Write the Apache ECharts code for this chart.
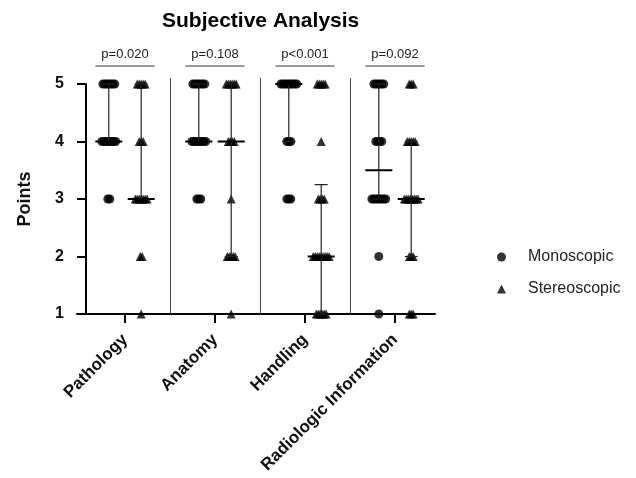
<!DOCTYPE html>
<html><head><meta charset="utf-8">
<script src="https://cdn.jsdelivr.net/npm/echarts@6/dist/echarts.min.js"></script>
<style>html,body{margin:0;padding:0;background:#fff}#c{width:636px;height:478px}</style>
</head><body><div id="c"></div>
<script>
// ---- data ----
const categories = ['Pathology', 'Anatomy', 'Handling', 'Radiologic Information'];
const scores = [5, 4, 3, 2, 1];
const yTicks = [1, 2, 3, 4, 5];
// number of ratings at each score (5,4,3,2,1) per category
const monoCounts   = [[7, 8, 2, 0, 0], [7, 8, 3, 0, 0], [9, 3, 3, 0, 0], [6, 4, 8, 1, 1]];
const stereoCounts = [[5, 3, 7, 2, 1], [6, 4, 1, 5, 1], [5, 1, 4, 9, 6], [3, 5, 8, 3, 3]];
// median with interquartile range
const monoMedian   = [4, 4, 5, 3.5];
const monoQ1       = [4, 4, 4, 3];
const monoQ3       = [5, 5, 5, 5];
const stereoMedian = [3, 4, 2, 3];
const stereoQ1     = [3, 2, 1, 2];
const stereoQ3     = [5, 5, 3.25, 4];
const pLabels = ['p=0.020', 'p=0.108', 'p<0.001', 'p=0.092'];

// ---- layout ----
const FONT = '"Liberation Sans", Arial, Helvetica, sans-serif';
const SIDE = 0.18;    // group offset from category centre (category units)
const STEP = 0.022;   // horizontal spread of overlapping points

function swarm(counts, side) {
  const out = [];
  counts.forEach((row, ci) => {
    row.forEach((n, si) => {
      for (let i = 0; i < n; i++) out.push([ci + side + (i - (n - 1) / 2) * STEP, scores[si]]);
    });
  });
  return out;
}
const errData = categories.map((c, i) => [i - SIDE, monoMedian[i], monoQ1[i], monoQ3[i]])
  .concat(categories.map((c, i) => [i + SIDE, stereoMedian[i], stereoQ1[i], stereoQ3[i]]));
const sepData = categories.slice(1).map((c, i) => [i + 0.5, 0]);
const bracketData = categories.map((c, i) => [i, 0]);

const chart = echarts.init(document.getElementById('c'), null, {renderer: 'canvas'});
chart.setOption({
  animation: false,
  backgroundColor: '#fff',
  textStyle: {fontFamily: FONT},
  title: {
    text: 'Subjective Analysis', left: 157, top: 6,
    textStyle: {fontFamily: FONT, fontSize: 21, fontWeight: 'bold', color: '#000'}
  },
  legend: {
    orient: 'vertical', left: 492, top: 243, itemGap: 14,
    itemWidth: 9, itemHeight: 9,
    data: ['Monoscopic', 'Stereoscopic'],
    textStyle: {fontFamily: FONT, fontSize: 16, color: '#222', lineHeight: 18, padding: [0, 0, 0, 17]}
  },
  grid: [
    {left: 80, width: 360, top: 84, height: 230},
    {left: 77, width: 358, top: 78, height: 236},
    {left: 80, width: 360, top: 40, height: 26}
  ],
  xAxis: [
    {gridIndex: 0, type: 'value', min: -0.5, max: 3.5, show: false},
    {gridIndex: 0, type: 'category', data: categories, position: 'bottom', boundaryGap: true,
     axisLine: {show: false},
     axisTick: {show: true, alignWithLabel: true, length: 9, lineStyle: {color: '#000', width: 2}},
     axisLabel: {rotate: 45, interval: 0, margin: 23, fontFamily: FONT, fontSize: 17, fontWeight: 'bold', color: '#111'},
     splitLine: {show: false}},
    {gridIndex: 1, type: 'value', min: -0.54, max: 3.44,
     axisLine: {show: true, onZero: false, lineStyle: {color: '#000', width: 2}},
     axisTick: {show: false}, axisLabel: {show: false}, splitLine: {show: false}},
    {gridIndex: 2, type: 'value', min: -0.5, max: 3.5, show: false}
  ],
  yAxis: [
    {gridIndex: 0, type: 'value', min: yTicks[0], max: yTicks[yTicks.length - 1], interval: 1, offset: -6,
     name: 'Points', nameLocation: 'middle', nameGap: 52,
     nameTextStyle: {fontFamily: FONT, fontSize: 18, fontWeight: 'bold', color: '#111'},
     axisLine: {show: true, onZero: false, lineStyle: {color: '#000', width: 2}},
     axisTick: {show: true, length: 9, lineStyle: {color: '#000', width: 2}},
     axisLabel: {margin: 22, fontFamily: FONT, fontSize: 16, fontWeight: 'bold', color: '#111'},
     splitLine: {show: false}},
    {gridIndex: 1, type: 'value', min: 0, max: 1, show: false},
    {gridIndex: 2, type: 'value', min: 0, max: 1, show: false}
  ],
  series: [
    {name: 'Monoscopic', type: 'scatter', xAxisIndex: 0, yAxisIndex: 0, symbol: 'circle', symbolSize: 9,
     itemStyle: {color: '#000'}, data: swarm(monoCounts, -SIDE), z: 3},
    {name: 'Stereoscopic', type: 'scatter', xAxisIndex: 0, yAxisIndex: 0, symbol: 'triangle', symbolSize: 9,
     itemStyle: {color: '#000'}, data: swarm(stereoCounts, SIDE), z: 3},
    {type: 'custom', xAxisIndex: 0, yAxisIndex: 0, data: errData, z: 4, silent: true,
     encode: {x: 0, y: [1, 2, 3]},
     renderItem: function (params, api) {
       const x = api.value(0);
       const top = api.coord([x, api.value(3)]);
       const bot = api.coord([x, api.value(2)]);
       const m = api.coord([x, api.value(1)]);
       const cap = 6.5, mw = 13.5;
       const st = {stroke: '#222', lineWidth: 1.2};
       return {type: 'group', children: [
         {type: 'line', shape: {x1: top[0], y1: top[1], x2: bot[0], y2: bot[1]}, style: st},
         {type: 'line', shape: {x1: top[0] - cap, y1: top[1], x2: top[0] + cap, y2: top[1]}, style: st},
         {type: 'line', shape: {x1: bot[0] - cap, y1: bot[1], x2: bot[0] + cap, y2: bot[1]}, style: st},
         {type: 'line', shape: {x1: m[0] - mw, y1: m[1], x2: m[0] + mw, y2: m[1]}, style: {stroke: '#000', lineWidth: 2}}
       ]};
     }},
    {type: 'custom', xAxisIndex: 2, yAxisIndex: 1, data: sepData, silent: true, z: 1,
     renderItem: function (params, api) {
       const a = api.coord([api.value(0), 0]);
       const b = api.coord([api.value(0), 1]);
       return {type: 'line', shape: {x1: a[0], y1: a[1], x2: b[0], y2: b[1]}, style: {stroke: '#444', lineWidth: 1}};
     }},
    {type: 'custom', xAxisIndex: 3, yAxisIndex: 2, data: bracketData, silent: true, z: 2,
     renderItem: function (params, api) {
       const c = api.value(0);
       const a = api.coord([c - 0.328, 0]);
       const b = api.coord([c + 0.328, 0]);
       return {type: 'group', children: [
         {type: 'line', shape: {x1: a[0], y1: a[1], x2: b[0], y2: b[1]}, style: {stroke: '#333', lineWidth: 1}},
         {type: 'text', style: {text: pLabels[params.dataIndex], x: (a[0] + b[0]) / 2, y: a[1] - 5,
           align: 'center', verticalAlign: 'bottom', font: '13px ' + FONT, fill: '#222'}}
       ]};
     }}
  ]
});
</script></body></html>
